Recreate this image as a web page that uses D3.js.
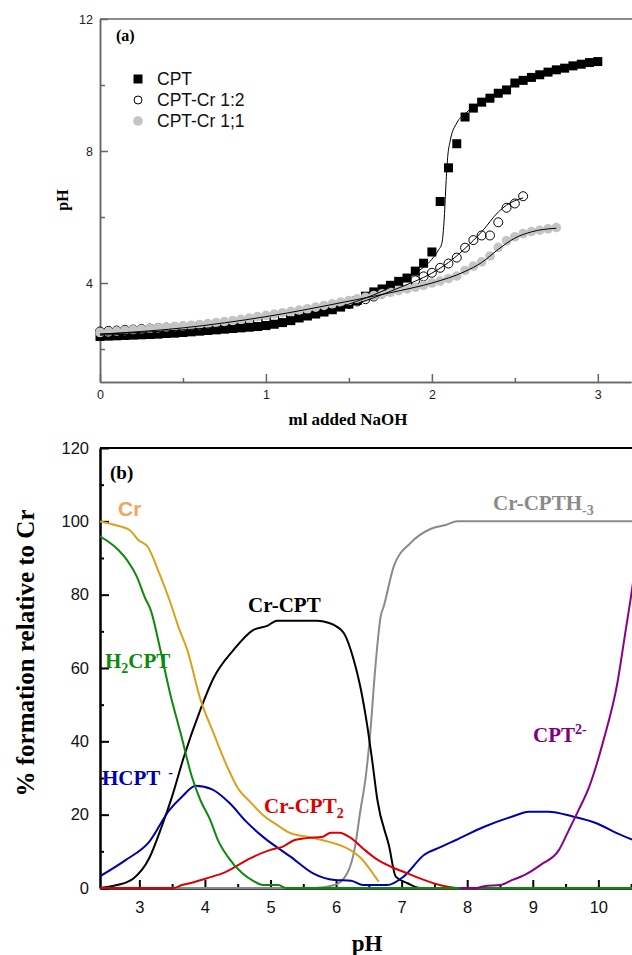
<!DOCTYPE html>
<html>
<head>
<meta charset="utf-8">
<script src="https://cdn.jsdelivr.net/npm/d3@7"></script>
<style>
  body { margin: 0; background: #fff; }
  .serif { font-family: "Liberation Serif", "Times New Roman", serif; font-weight: bold; }
  .sans { font-family: "Liberation Sans", Arial, sans-serif; }
</style>
</head>
<body>
<div class="chart"></div>
<script>
// ---- panel (a): titration curves, ml NaOH vs pH ----
var cptMl = [0,0.05,0.1,0.15,0.2,0.25,0.3,0.35,0.4,0.45,0.5,0.55,0.6,0.65,0.7,0.75,0.8,0.85,0.9,0.95,
  1,1.05,1.1,1.15,1.2,1.25,1.3,1.35,1.4,1.45,1.5,1.55,1.6,1.65,1.7,1.75,1.8,1.85,1.9,1.95,
  2,2.05,2.1,2.15,2.2,2.25,2.3,2.35,2.4,2.45,2.5,2.55,2.6,2.65,2.7,2.75,2.8,2.85,2.9,2.95,3];
var cptPH = [2.38,2.39,2.40,2.41,2.42,2.43,2.44,2.45,2.47,2.48,2.50,2.52,2.54,2.56,2.58,2.60,2.62,2.64,2.66,2.68,
  2.71,2.75,2.80,2.86,2.94,3.00,3.06,3.12,3.19,3.27,3.36,3.47,3.60,3.73,3.82,3.93,4.05,4.15,4.36,4.60,
  4.94,6.47,7.49,8.22,9.03,9.30,9.48,9.60,9.75,9.85,10.06,10.14,10.23,10.31,10.39,10.46,10.51,10.58,10.63,10.68,10.71];

var cr12Ml = [0,0.05,0.1,0.15,0.2,0.25,0.3,0.35,0.4,0.45,0.5,0.55,0.6,0.65,0.7,0.75,0.8,0.85,0.9,0.95,
  1,1.05,1.1,1.15,1.2,1.25,1.3,1.35,1.4,1.45,1.5,1.55,1.6,1.65,1.7,1.75,1.8,1.85,1.9,1.95,
  2,2.05,2.1,2.15,2.2,2.25,2.3,2.35,2.4,2.45,2.5,2.55];
var cr12PH = [2.53,2.55,2.56,2.58,2.59,2.61,2.62,2.64,2.65,2.67,2.68,2.70,2.72,2.74,2.76,2.78,2.80,2.83,2.86,2.89,
  2.92,2.95,2.99,3.03,3.07,3.11,3.16,3.21,3.26,3.31,3.37,3.44,3.51,3.59,3.68,3.77,3.87,3.97,4.08,4.20,
  4.31,4.46,4.59,4.77,5.07,5.30,5.44,5.44,5.84,6.28,6.41,6.63];

var cr11Ml = [0,0.05,0.1,0.15,0.2,0.25,0.3,0.35,0.4,0.45,0.5,0.55,0.6,0.65,0.7,0.75,0.8,0.85,0.9,0.95,
  1,1.05,1.1,1.15,1.2,1.25,1.3,1.35,1.4,1.45,1.5,1.55,1.6,1.65,1.7,1.75,1.8,1.85,1.9,1.95,
  2,2.05,2.1,2.15,2.2,2.25,2.3,2.35,2.4,2.45,2.5,2.55,2.6,2.65,2.7,2.75];
var cr11PH = [2.50,2.52,2.54,2.56,2.58,2.60,2.62,2.64,2.66,2.68,2.70,2.72,2.74,2.77,2.80,2.83,2.86,2.90,2.94,2.98,
  3.02,3.06,3.10,3.14,3.18,3.22,3.27,3.32,3.37,3.42,3.47,3.52,3.57,3.62,3.67,3.72,3.77,3.82,3.87,3.93,
  4.00,4.06,4.13,4.21,4.38,4.51,4.64,4.82,5.08,5.28,5.40,5.50,5.56,5.60,5.64,5.68];

// fitted curves (ml, pH)
var cptFit = [[0,2.42],[0.5,2.52],[1,2.75],[1.5,3.36],[1.8,4.0],[1.9,4.3],[2,4.72],[2.04,5.0],[2.06,5.2],
  [2.075,6.0],[2.085,7.0],[2.095,7.8],[2.11,8.3],[2.15,8.85],[2.2,9.13],[2.3,9.48],[2.5,10.03],[2.7,10.38],[3,10.71]];
var cr12Fit = [[0,2.45],[0.5,2.58],[1,2.82],[1.5,3.3],[1.8,3.85],[2,4.3],[2.1,4.62],[2.2,5.05],[2.3,5.55],
  [2.4,6.15],[2.45,6.36],[2.55,6.58]];
var cr11Fit = [[0,2.45],[0.5,2.64],[1,2.98],[1.5,3.45],[1.8,3.76],[2,4.0],[2.2,4.35],[2.3,4.62],[2.4,5.02],
  [2.5,5.36],[2.6,5.55],[2.75,5.66]];

var legendNames = ["CPT", "CPT-Cr 1:2", "CPT-Cr 1;1"];

// ---- panel (b): species distribution, pH vs % ----
var crFree = [[2.39,100],[2.63,99],[2.86,97.5],[2.98,95],[3.13,93],[3.3,86],[3.47,78],[3.6,71],[3.73,65],[3.93,51.5],
  [4.13,42.3],[4.34,33.1],[4.51,27],[4.69,23.5],[4.88,20],[5.1,17.2],[5.3,15],[5.55,14],[5.8,13],[6.11,11.3],
  [6.25,10],[6.38,8.1],[6.5,5.5],[6.65,1.7]];
var h2cpt = [[2.39,96],[2.68,92.2],[2.81,89.5],[2.96,85],[3.09,79],[3.17,76],[3.32,65],[3.47,53],[3.63,42.2],[3.8,30.4],
  [3.93,24],[4.08,18.6],[4.2,13],[4.35,8.5],[4.57,4],[4.75,1.8],[4.88,0.8],[5.12,0.8],[5.24,0],[10.6,0]];
var hcpt = [[2.39,3.1],[2.79,7.6],[3.15,12.6],[3.46,21.3],[3.65,24.9],[3.86,27.9],[4.11,26.9],[4.38,23.1],[4.63,18.1],
  [4.91,13.6],[5.31,8.5],[5.65,4],[5.98,2.2],[6.23,2],[6.41,0.8],[6.78,0.8],[7.03,3.1],[7.34,9],[7.6,11.2],[7.83,13.1],
  [8.26,16.7],[8.69,19.5],[8.94,20.8],[9.24,20.8],[9.61,19.5],[9.98,17.6],[10.29,14.9],[10.6,12.6]];
var crCpt = [[2.39,0],[2.66,0.8],[2.91,2.6],[3.15,8.1],[3.34,16.7],[3.5,25],[3.68,35.8],[3.93,48.6],[4.13,57.2],
  [4.44,65],[4.74,70.4],[4.95,71.5],[5.1,72.9],[5.71,72.9],[5.81,72.7],[5.96,71.8],[6.12,69.5],[6.27,62.2],[6.37,54.9],
  [6.47,44.9],[6.55,34.9],[6.63,24],[6.81,11.3],[6.91,3.1],[7.09,1.3],[7.28,0],[10.6,0]];
var crCpt2 = [[2.39,0],[3.52,0],[3.65,0.8],[3.77,1.3],[4.02,2.6],[4.32,4.4],[4.69,8.1],[5,10.4],[5.19,11.3],[5.37,13.1],
  [5.55,13.6],[5.8,14],[5.92,15.1],[6.05,15.1],[6.23,13.6],[6.41,10.8],[6.6,8.1],[6.84,5.8],[7.09,4],[7.34,2.2],
  [7.58,0.8],[7.83,0]];
var crCptH3 = [[2.39,0],[5.68,0],[5.98,0.8],[6.17,4],[6.29,11.3],[6.37,21],[6.45,30],[6.52,42],[6.6,60.4],[6.68,74],
  [6.73,77],[6.88,87.7],[7.13,94],[7.44,97.9],[7.67,99],[7.85,100],[10.6,100]];
var cpt2 = [[7.89,0],[8.14,0],[8.26,0.5],[8.51,0.8],[8.69,2.2],[8.87,3.5],[9.12,6.3],[9.4,10.4],[9.55,15.8],[9.7,21.3],
  [9.86,27.6],[10.08,40.4],[10.29,55.9],[10.41,69.5],[10.49,78.6],[10.6,92]];

var svg = d3.select(".chart").append("svg")
    .attr("width", 632)
    .attr("height", 955);

// ================= panel (a) =================
var x1 = d3.scaleLinear().domain([0, 3.2]).range([100, 631]);
var y1 = d3.scaleLinear().domain([1, 12]).range([382, 19]);
var axisCol = "#666";

var gA = svg.append("g");

gA.append("line")
    .attr("x1", 100).attr("x2", 632).attr("y1", y1(12)).attr("y2", y1(12))
    .attr("stroke", axisCol).attr("stroke-width", 1.5);

var xAxisA = d3.axisBottom(x1).tickValues([0, 1, 2, 3]).tickSize(-8).tickSizeOuter(0).tickPadding(8)
    .tickFormat(d3.format("d"));
var xMinorA = d3.axisBottom(x1).tickValues([0.5, 1.5, 2.5]).tickSize(-4).tickSizeOuter(0).tickFormat("");
var yAxisA = d3.axisLeft(y1).tickValues([4, 8, 12]).tickSize(-8).tickSizeOuter(0).tickPadding(7);
var yMinorA = d3.axisLeft(y1).tickValues([2, 6, 10]).tickSize(-5).tickSizeOuter(0).tickFormat("");

gA.append("g").attr("transform", "translate(0," + y1(1) + ")").call(xAxisA);
gA.append("g").attr("transform", "translate(0," + y1(1) + ")").call(xMinorA);
gA.append("g").attr("transform", "translate(100,0)").call(yAxisA);
gA.append("g").attr("transform", "translate(100,0)").call(yMinorA);
gA.selectAll(".domain, .tick line").attr("stroke", axisCol).attr("stroke-width", 1.5);
gA.selectAll(".tick text").attr("class", "sans").attr("font-size", 12.5).attr("fill", "#222");

// markers
gA.selectAll(".sq")
    .data(cptMl)
  .enter().append("rect")
    .attr("class", "sq")
    .attr("x", function(d){ return x1(d) - 4.5; })
    .attr("y", function(d, i){ return y1(cptPH[i]) - 4.5; })
    .attr("width", 9).attr("height", 9)
    .attr("fill", "#000");

gA.selectAll(".open")
    .data(cr12Ml)
  .enter().append("circle")
    .attr("class", "open")
    .attr("cx", function(d){ return x1(d); })
    .attr("cy", function(d, i){ return y1(cr12PH[i]); })
    .attr("r", 4.5)
    .attr("fill", "none").attr("stroke", "#000").attr("stroke-width", 1);

gA.selectAll(".grey")
    .data(cr11Ml)
  .enter().append("circle")
    .attr("class", "grey")
    .attr("cx", function(d){ return x1(d); })
    .attr("cy", function(d, i){ return y1(cr11PH[i]); })
    .attr("r", 4.8)
    .attr("fill", "#c4c4c4");

var fitLine = d3.line()
    .x(function(d){ return x1(d[0]); })
    .y(function(d){ return y1(d[1]); })
    .curve(d3.curveMonotoneX);

[cptFit, cr12Fit, cr11Fit].forEach(function(f){
  gA.append("path")
      .attr("d", fitLine(f))
      .attr("fill", "none").attr("stroke", "#000").attr("stroke-width", 1);
});

// legend
var legY = [79, 100, 121];
gA.append("rect").attr("x", 133.5).attr("y", legY[0] - 4.5).attr("width", 9).attr("height", 9).attr("fill", "#000");
gA.append("circle").attr("cx", 138).attr("cy", legY[1]).attr("r", 4)
    .attr("fill", "none").attr("stroke", "#000").attr("stroke-width", 1);
gA.append("circle").attr("cx", 138).attr("cy", legY[2]).attr("r", 4.8).attr("fill", "#c4c4c4");
legendNames.forEach(function(n, i){
  gA.append("text").attr("class", "sans")
      .attr("x", 157).attr("y", legY[i] + 6)
      .attr("font-size", 17.5).attr("fill", "#111")
      .text(n);
});

gA.append("text").attr("class", "serif").attr("x", 116).attr("y", 41).attr("font-size", 16).text("(a)");

gA.append("text").attr("class", "serif")
    .attr("text-anchor", "middle")
    .attr("transform", "translate(68,200)rotate(-90)")
    .attr("font-size", 16)
    .text("pH");

gA.append("text").attr("class", "serif")
    .attr("text-anchor", "middle")
    .attr("x", 348).attr("y", 425)
    .attr("font-size", 17)
    .text("ml added NaOH");

// ================= panel (b) =================
var x2 = d3.scaleLinear().domain([2.4, 10.6]).range([100, 637.7]);
var y2 = d3.scaleLinear().domain([0, 120]).range([888, 448]);

var gB = svg.append("g");

svg.append("clipPath").attr("id", "clipB")
  .append("rect").attr("x", 100).attr("y", 440).attr("width", 532).attr("height", 452);

gB.append("line")
    .attr("x1", 100).attr("x2", 632).attr("y1", y2(120)).attr("y2", y2(120))
    .attr("stroke", "#000").attr("stroke-width", 2);

var xAxisB = d3.axisBottom(x2).tickValues([3, 4, 5, 6, 7, 8, 9, 10]).tickSize(-8).tickSizeOuter(0).tickPadding(13)
    .tickFormat(d3.format("d"));
var xMinorB = d3.axisBottom(x2).tickValues([3.5, 4.5, 5.5, 6.5, 7.5, 8.5, 9.5, 10.5]).tickSize(-4).tickSizeOuter(0).tickFormat("");
var yAxisB = d3.axisLeft(y2).tickValues([0, 20, 40, 60, 80, 100, 120]).tickSize(-9).tickSizeOuter(0).tickPadding(11);
var yMinorB = d3.axisLeft(y2).tickValues([10, 30, 50, 70, 90, 110]).tickSize(-4).tickSizeOuter(0).tickFormat("");

gB.append("g").attr("transform", "translate(0," + y2(0) + ")").call(xAxisB);
gB.append("g").attr("transform", "translate(0," + y2(0) + ")").call(xMinorB);
gB.append("g").attr("transform", "translate(100,0)").call(yAxisB);
gB.append("g").attr("transform", "translate(100,0)").call(yMinorB);
gB.selectAll(".domain, .tick line").attr("stroke", "#000").attr("stroke-width", 2);
gB.selectAll(".tick text").attr("class", "sans").attr("font-size", 16.5).attr("fill", "#111");

var specLine = d3.line()
    .x(function(d){ return x2(d[0]); })
    .y(function(d){ return y2(d[1]); })
    .curve(d3.curveMonotoneX);

var curves = [
  {data: crCptH3, color: "#8a8a8a"},
  {data: crCpt, color: "#000"},
  {data: hcpt, color: "#0000aa"},
  {data: crFree, color: "#d9a21b"},
  {data: crCpt2, color: "#dd0000"},
  {data: h2cpt, color: "#0b8a0b"},
  {data: cpt2, color: "#8b008b"}
];

gB.append("g").attr("clip-path", "url(#clipB)")
  .selectAll("path")
    .data(curves)
  .enter().append("path")
    .attr("d", function(d){ return specLine(d.data); })
    .attr("fill", "none")
    .attr("stroke", function(d){ return d.color; })
    .attr("stroke-width", 2);

// species labels
gB.append("text").attr("class", "serif").attr("x", 110).attr("y", 479).attr("font-size", 19).text("(b)");

gB.append("text").attr("class", "sans").attr("font-weight", "bold")
    .attr("x", 118).attr("y", 516).attr("font-size", 21).attr("fill", "#f4a460").text("Cr");

var t;
t = gB.append("text").attr("class", "serif").attr("x", 105).attr("y", 668).attr("font-size", 21).attr("fill", "#0b8a0b");
t.append("tspan").text("H");
t.append("tspan").attr("font-size", 14).attr("dy", 5).text("2");
t.append("tspan").attr("dy", -5).text("CPT");

t = gB.append("text").attr("class", "serif").attr("x", 102).attr("y", 785).attr("font-size", 21).attr("fill", "#0000aa");
t.append("tspan").text("HCPT");
t.append("tspan").attr("font-size", 14).attr("dx", 8).attr("dy", -8).text("-");

gB.append("text").attr("class", "serif").attr("x", 248).attr("y", 612).attr("font-size", 21).attr("fill", "#000").text("Cr-CPT");

t = gB.append("text").attr("class", "serif").attr("x", 264).attr("y", 813).attr("font-size", 21).attr("fill", "#dd0000");
t.append("tspan").text("Cr-CPT");
t.append("tspan").attr("font-size", 14).attr("dy", 5).text("2");

t = gB.append("text").attr("class", "serif").attr("x", 493).attr("y", 510).attr("font-size", 21).attr("fill", "#8a8a8a");
t.append("tspan").text("Cr-CPTH");
t.append("tspan").attr("font-size", 14).attr("dy", 5).text("-3");

t = gB.append("text").attr("class", "serif").attr("x", 533).attr("y", 742).attr("font-size", 21).attr("fill", "#800080");
t.append("tspan").text("CPT");
t.append("tspan").attr("font-size", 14).attr("dy", -8).text("2-");

gB.append("text").attr("class", "serif")
    .attr("text-anchor", "middle")
    .attr("transform", "translate(34,653)rotate(-90)")
    .attr("font-size", 25)
    .text("% formation relative to Cr");

gB.append("text").attr("class", "serif")
    .attr("text-anchor", "middle")
    .attr("x", 367).attr("y", 951)
    .attr("font-size", 23)
    .text("pH");
</script>
</body>
</html>
